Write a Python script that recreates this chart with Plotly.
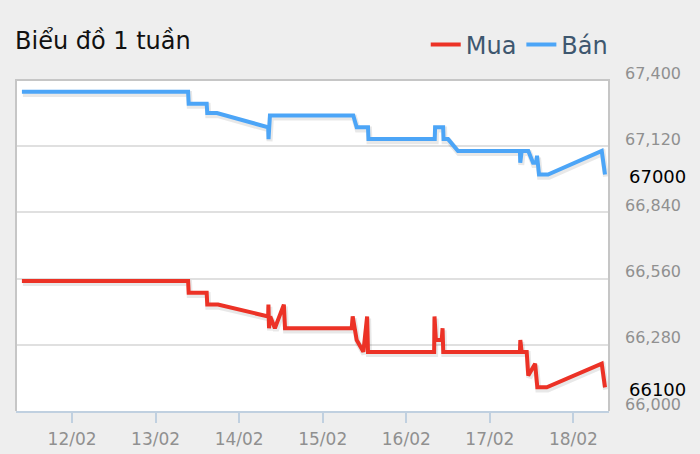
import plotly.graph_objects as go
import pandas as pd

# ---- data ----
mua_time = [
    "2022-02-11 09:36", "2022-02-13 09:20", "2022-02-13 09:30", "2022-02-13 14:40",
    "2022-02-13 14:50", "2022-02-13 17:55", "2022-02-14 08:20", "2022-02-14 08:24",
    "2022-02-14 08:34", "2022-02-14 08:55", "2022-02-14 10:15", "2022-02-14 12:50",
    "2022-02-14 13:10", "2022-02-15 08:19", "2022-02-15 08:36", "2022-02-15 09:45",
    "2022-02-15 11:40", "2022-02-15 12:45", "2022-02-15 13:00", "2022-02-16 08:00",
    "2022-02-16 08:06", "2022-02-16 08:30", "2022-02-16 10:10", "2022-02-16 10:25",
    "2022-02-16 10:37", "2022-02-17 08:38", "2022-02-17 08:45", "2022-02-17 09:08",
    "2022-02-17 10:35", "2022-02-17 11:02", "2022-02-17 13:00", "2022-02-17 13:38",
    "2022-02-17 16:20", "2022-02-18 08:08", "2022-02-18 09:04",
]
mua_value = [
    66550, 66550, 66500, 66500,
    66450, 66450, 66400, 66450,
    66350, 66400, 66350, 66450,
    66350, 66350, 66400, 66300,
    66250, 66400, 66250, 66250,
    66400, 66300, 66300, 66350,
    66250, 66250, 66300, 66250,
    66250, 66150, 66200, 66100,
    66100, 66200, 66100,
]

ban_time = [
    "2022-02-11 09:36", "2022-02-13 09:20", "2022-02-13 09:30", "2022-02-13 14:40",
    "2022-02-13 14:50", "2022-02-13 17:37", "2022-02-14 08:20", "2022-02-14 08:26",
    "2022-02-14 08:50", "2022-02-15 08:46", "2022-02-15 09:45", "2022-02-15 13:00",
    "2022-02-15 13:08", "2022-02-16 08:10", "2022-02-16 08:16", "2022-02-16 10:35",
    "2022-02-16 10:42", "2022-02-16 12:00", "2022-02-16 14:50", "2022-02-17 08:38",
    "2022-02-17 08:44", "2022-02-17 09:08", "2022-02-17 11:02", "2022-02-17 12:24",
    "2022-02-17 13:16", "2022-02-17 13:33", "2022-02-17 14:07", "2022-02-17 16:42",
    "2022-02-18 08:08", "2022-02-18 09:04",
]
ban_value = [
    67350, 67350, 67300, 67300,
    67260, 67260, 67200, 67150,
    67250, 67250, 67200, 67200,
    67150, 67150, 67200, 67200,
    67150, 67150, 67100, 67100,
    67050, 67100, 67100, 67050,
    67050, 67080, 67000, 67000,
    67100, 67000,
]

y_ticks = [66000, 66280, 66560, 66840, 67120, 67400]
x_range = ["2022-02-11 07:54", "2022-02-18 10:13"]

RED = "#ec3226"
BLUE = "#4ca5f7"
FONT = "DejaVu Sans"

fig = go.Figure()

# soft shadows (derived from the series, offset slightly)
for t, v in ((mua_time, mua_value), (ban_time, ban_value)):
    ts = pd.to_datetime(pd.Series(t)) + pd.Timedelta(minutes=17)
    fig.add_trace(go.Scatter(
        x=ts, y=[val - 9 for val in v], mode="lines",
        line=dict(color="rgba(0,0,0,0.09)", width=6),
        showlegend=False, hoverinfo="skip"))

fig.add_trace(go.Scatter(x=mua_time, y=mua_value, mode="lines", name="Mua",
                         line=dict(color=RED, width=4)))
fig.add_trace(go.Scatter(x=ban_time, y=ban_value, mode="lines", name="Bán",
                         line=dict(color=BLUE, width=4)))

# y tick labels (sit just above their grid lines)
for v in y_ticks:
    fig.add_annotation(x=1, xref="paper", y=v, yref="y", text=f"{v:,}",
                       showarrow=False, xanchor="left", yanchor="middle",
                       xshift=14, yshift=7,
                       font=dict(family=FONT, size=16, color="#909090"))

# last-value labels
for v in (ban_value[-1], mua_value[-1]):
    fig.add_annotation(x=1, xref="paper", y=v, yref="y", text=str(v),
                       showarrow=False, xanchor="left", yanchor="middle",
                       xshift=18, yshift=-2,
                       font=dict(family=FONT, size=18, color="#000000"))

# frame (top, left, right)
fig.add_shape(type="path", xref="paper", yref="paper",
              path="M 0,0 L 0,1 L 1,1 L 1,0",
              line=dict(color="#c6c6c6", width=2), layer="above")

fig.update_layout(
    width=700, height=454,
    margin=dict(l=16, r=91, t=80, b=43, autoexpand=False),
    paper_bgcolor="#eeeeee",
    plot_bgcolor="#ffffff",
    font=dict(family=FONT),
    title=dict(text="Biểu đồ 1 tuần", x=15 / 700, xref="container", xanchor="left",
               y=1 - 41 / 454, yref="container", yanchor="middle",
               font=dict(family=FONT, size=24, color="#111111")),
    legend=dict(orientation="h", x=1.008, xanchor="right", y=1.106, yanchor="middle",
                font=dict(family=FONT, size=24, color="#3e576f"),
                bgcolor="rgba(0,0,0,0)", itemwidth=30),
    showlegend=True,
    hovermode=False,
    xaxis=dict(
        type="date", range=x_range, dtick=86400000, tick0="2022-02-12",
        tickformat="%d/%m", showgrid=False, automargin=False,
        showline=True, linecolor="#c0d0e0", linewidth=2,
        ticks="outside", ticklen=10, tickwidth=2, tickcolor="#c0d0e0",
        ticklabelstandoff=2,
        tickfont=dict(family=FONT, size=17, color="#909090"),
        zeroline=False,
    ),
    yaxis=dict(
        range=[66000, 67400], side="right", tickvals=y_ticks, automargin=False,
        showgrid=True, gridcolor="#e0e0e0", gridwidth=2,
        ticks="", showticklabels=False,
        zeroline=False, showline=False,
    ),
)

fig.write_html("out.html", config={"displayModeBar": False},
               post_script="document.body.style.margin='0px';")
